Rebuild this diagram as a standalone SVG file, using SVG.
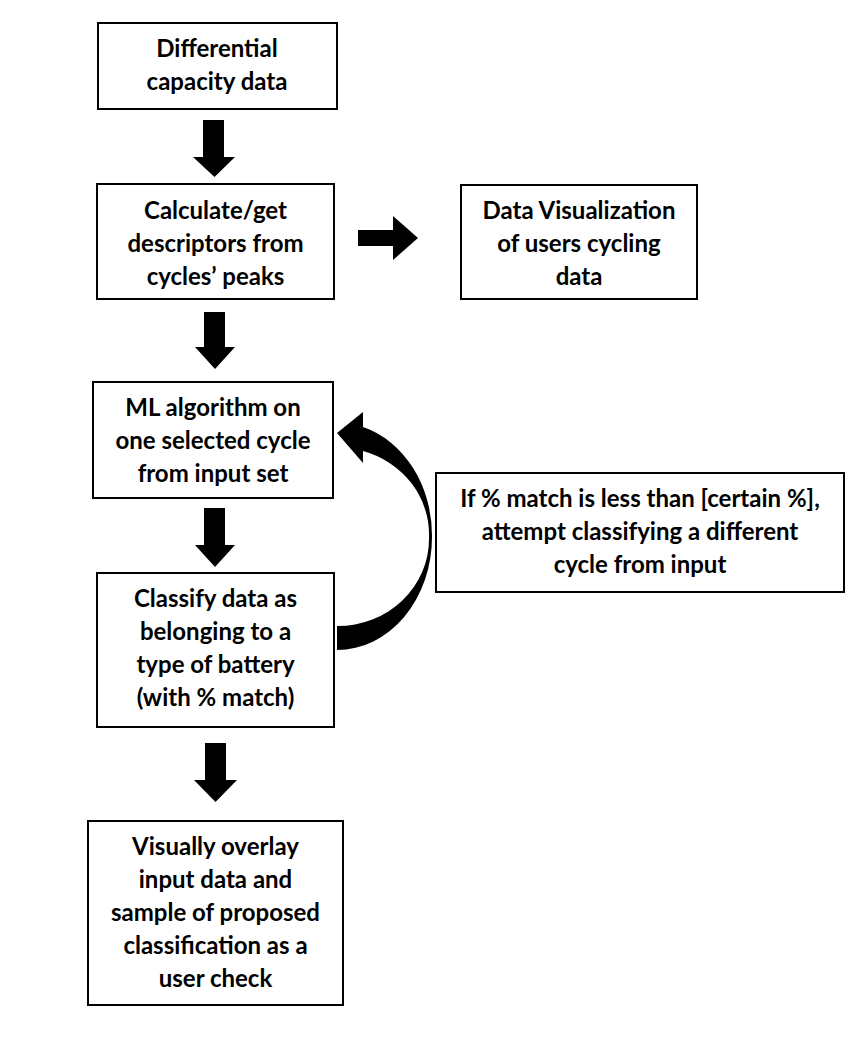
<svg xmlns="http://www.w3.org/2000/svg" width="868" height="1038" viewBox="0 0 868 1038">
<style>
.box{fill:#fff;stroke:#000;stroke-width:2}
.t{font-family:Lato,"Open Sans","Liberation Sans",sans-serif;font-weight:bold;font-size:24px;fill:#000;text-anchor:middle}
.arr{fill:#000;stroke:none}
</style>
<rect width="868" height="1038" fill="#fff"/>
<g id="connectors">
<path class="arr" d="M203 120H224V157H235L214.5 177L193 157H203Z"/>
<path class="arr" d="M204 312H225V347H235L215 369L195 347H204Z"/>
<path class="arr" d="M204 508H225V545H235L215 567L195 545H204Z"/>
<path class="arr" d="M205 743H226V780H237L215.5 802L194 780H205Z"/>
<path class="arr" d="M358 230H393V216L418 238L393 260V246H358Z"/>
<path class="arr" d="M337 650A95 113 0 0 0 432 537A95 113 0 0 0 363 427L363 412L337 433L363 463L363 451A91 87 0 0 1 429 538A91 87 0 0 1 337 626Z"/>
</g>
<g id="n1"><rect class="box" x="98" y="23" width="239" height="86"/><text class="t" x="217" y="57">Differential</text><text class="t" x="217" y="90">capacity data</text></g>
<g id="n2"><rect class="box" x="97" y="184" width="237" height="115"/><text class="t" x="215.5" y="219">Calculate/get</text><text class="t" x="215.5" y="252">descriptors from</text><text class="t" x="215.5" y="285">cycles’ peaks</text></g>
<g id="n3"><rect class="box" x="461" y="185" width="236" height="114"/><text class="t" x="579" y="219">Data Visualization</text><text class="t" x="579" y="252">of users cycling</text><text class="t" x="579" y="285">data</text></g>
<g id="n4"><rect class="box" x="93" y="382" width="240" height="116"/><text class="t" x="213" y="416">ML algorithm on</text><text class="t" x="213" y="449">one selected cycle</text><text class="t" x="213" y="482">from input set</text></g>
<g id="n5"><rect class="box" x="97" y="573" width="237" height="154"/><text class="t" x="215.5" y="607">Classify data as</text><text class="t" x="215.5" y="640">belonging to a</text><text class="t" x="215.5" y="673">type of battery</text><text class="t" x="215.5" y="706">(with % match)</text></g>
<g id="n6"><rect class="box" x="88" y="821" width="255" height="184"/><text class="t" x="215.5" y="855">Visually overlay</text><text class="t" x="215.5" y="888">input data and</text><text class="t" x="215.5" y="921">sample of proposed</text><text class="t" x="215.5" y="954">classification as a</text><text class="t" x="215.5" y="987">user check</text></g>
<g id="n7"><rect class="box" x="436" y="473" width="408" height="119"/><text class="t" x="640" y="507">If % match is less than [certain %],</text><text class="t" x="640" y="540">attempt classifying a different</text><text class="t" x="640" y="573">cycle from input</text></g>
</svg>
